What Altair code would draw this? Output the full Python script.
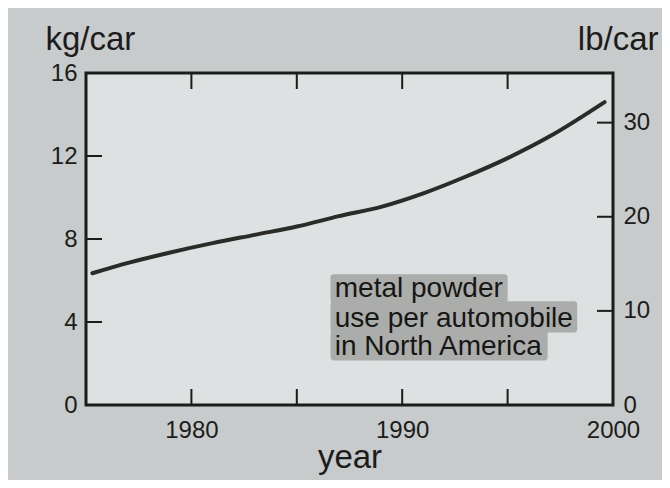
import altair as alt
import pandas as pd

# ---- data ----
years = [1975.3, 1977, 1979, 1981, 1983, 1985, 1987, 1989, 1991, 1993, 1995, 1997, 1999.6]
kg_per_car = [6.35, 6.85, 7.35, 7.8, 8.2, 8.6, 9.1, 9.55, 10.2, 11.0, 11.9, 12.95, 14.6]

x_ticks = [1980, 1985, 1990, 1995]
x_labels = [1980, 1990, 2000]
kg_ticks = [4, 8, 12]
kg_labels = [0, 4, 8, 12, 16]
lb_ticks = [10, 20, 30]
lb_labels = [0, 10, 20, 30]

KG_TO_LB = 2.20462
x_domain = [1975, 2000]
kg_domain = [0, 16]
lb_domain = [0, 16 * KG_TO_LB]

note_lines = ["metal powder", "use per automobile", "in North America"]
note_year = [1986.8, 1986.8, 1986.8]
note_kg = [5.2, 3.76, 2.41]
# shaded patch behind the note, one block per line
patch_x1 = [1986.6, 1986.6, 1986.6]
patch_x2 = [1995.0, 1998.3, 1996.9]
patch_y1 = [4.9, 3.5, 2.15]
patch_y2 = [6.3, 5.0, 3.6]

W, H = 527, 332
TICK = 16
FONT = "Liberation Sans"
INK = "#1c1c1a"

line_df = pd.DataFrame({"year": years, "kg": kg_per_car})
xt_df = pd.DataFrame({"year": x_ticks})
kt_df = pd.DataFrame({"kg": kg_ticks})
lt_df = pd.DataFrame({"lb": lb_ticks})
note_df = pd.DataFrame({"year": note_year, "kg": note_kg, "txt": note_lines})
patch_df = pd.DataFrame({"year": patch_x1, "x2": patch_x2, "kg": patch_y1, "y2": patch_y2})

xs = alt.Scale(domain=x_domain, nice=False, zero=False)
ks = alt.Scale(domain=kg_domain, nice=False)
ls = alt.Scale(domain=lb_domain, nice=False)

x_axis = alt.Axis(
    values=x_labels, format="d", ticks=False, tickSize=0, domain=False, grid=False,
    labelFontSize=24, labelFont=FONT, labelColor=INK, labelPadding=13,
    labelFlush=False, labelOverlap=False, labelBound=False,
    title="year", titleFontSize=33, titleFont=FONT, titleFontWeight="normal",
    titleColor=INK, titleBaseline="alphabetic", titleY=62,
)
kg_axis = alt.Axis(
    orient="left", values=kg_labels, ticks=False, tickSize=0, domain=False, grid=False,
    labelFontSize=24, labelFont=FONT, labelColor=INK, labelPadding=9,
    labelFlush=False, labelOverlap=False, labelBound=False,
    title="kg/car", titleFontSize=33, titleFont=FONT, titleFontWeight="normal",
    titleColor=INK, titleAngle=0, titleAlign="left", titleBaseline="alphabetic",
    titleX=-41, titleY=-24,
)
lb_axis = alt.Axis(
    orient="right", values=lb_labels, ticks=False, tickSize=0, domain=False, grid=False,
    labelFontSize=24, labelFont=FONT, labelColor=INK, labelPadding=10,
    labelFlush=False, labelOverlap=False, labelBound=False,
    title="lb/car", titleFontSize=33, titleFont=FONT, titleFontWeight="normal",
    titleColor=INK, titleAngle=0, titleAlign="right", titleBaseline="alphabetic",
    titleX=45, titleY=-24,
)

XQ = lambda: alt.X("year:Q", scale=xs, axis=x_axis, title="year")
YQ = lambda: alt.Y("kg:Q", scale=ks, axis=kg_axis, title="kg/car")

patch = alt.Chart(patch_df).mark_rect(color="#abadab", cornerRadius=3).encode(
    x=XQ(), x2="x2:Q", y=YQ(), y2="y2:Q",
)

note = alt.Chart(note_df).mark_text(
    align="left", baseline="alphabetic", font=FONT, fontSize=28, color="#161614"
).encode(x=XQ(), y=YQ(), text="txt:N")

line = alt.Chart(line_df).mark_line(
    color="#2b2b27", strokeWidth=4, interpolate="monotone", strokeCap="round"
).encode(x=XQ(), y=YQ())

left_ticks = alt.Chart(kt_df).mark_rule(color=INK, strokeWidth=2).encode(
    y=YQ(), x=alt.value(0), x2=alt.value(TICK),
)

top_ticks = alt.Chart(xt_df).mark_rule(color=INK, strokeWidth=2).encode(
    x=XQ(), y=alt.value(0), y2=alt.value(TICK),
)

bottom_ticks = alt.Chart(xt_df).mark_rule(color=INK, strokeWidth=2).encode(
    x=XQ(), y=alt.value(H - TICK), y2=alt.value(H),
)

right_ticks = alt.Chart(lt_df).mark_rule(color=INK, strokeWidth=2).encode(
    y=alt.Y("lb:Q", scale=ls, axis=lb_axis, title="lb/car"),
    x=alt.value(W - TICK), x2=alt.value(W),
)

kg_layer = alt.layer(line, patch, note, left_ticks, top_ticks, bottom_ticks)

chart = alt.layer(kg_layer, right_ticks).resolve_scale(y="independent").properties(
    width=W, height=H,
    autosize=alt.AutoSizeParams(type="none"),
    padding={"left": 78, "top": 65, "right": 49, "bottom": 75},
    background="#c7cbcb",
).configure_view(
    fill="#dde1e1", stroke=INK, strokeWidth=3,
)

chart.save("out.html", embed_options={"renderer": "svg", "actions": False})
